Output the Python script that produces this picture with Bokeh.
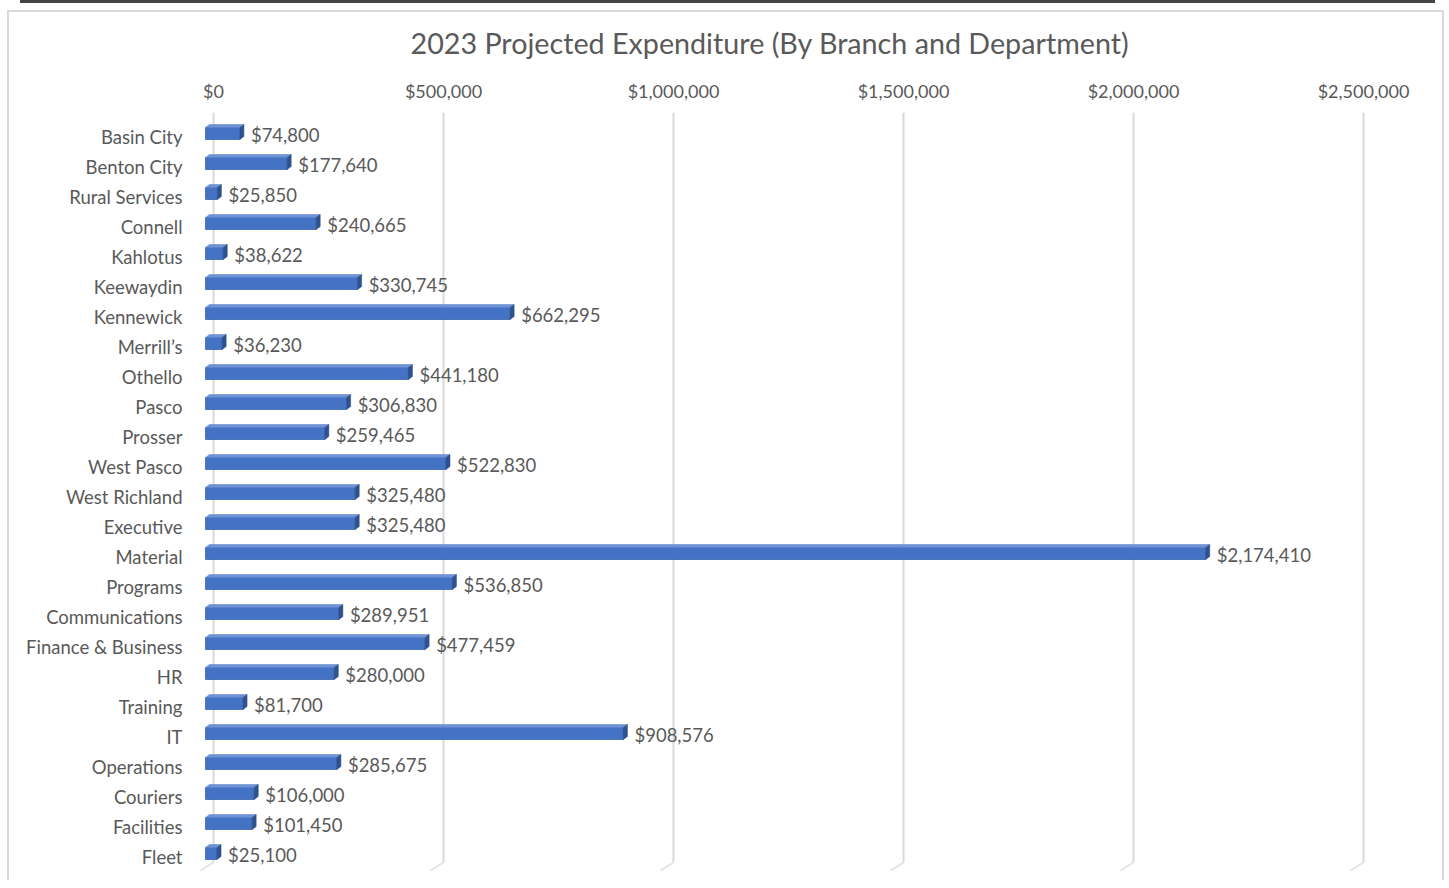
from bokeh.plotting import figure
from bokeh.models import Range1d, FixedTicker, NumeralTickFormatter, ColumnDataSource
from bokeh.embed import file_html
from bokeh.resources import INLINE

categories = ["Basin City", "Benton City", "Rural Services", "Connell", "Kahlotus",
              "Keewaydin", "Kennewick", "Merrill\u2019s", "Othello", "Pasco", "Prosser",
              "West Pasco", "West Richland", "Executive", "Material", "Programs",
              "Communications", "Finance & Business", "HR", "Training", "IT",
              "Operations", "Couriers", "Facilities", "Fleet"]
values = [74800, 177640, 25850, 240665, 38622, 330745, 662295, 36230, 441180,
          306830, 259465, 522830, 325480, 325480, 2174410, 536850, 289951,
          477459, 280000, 81700, 908576, 285675, 106000, 101450, 25100]
x_ticks = [0, 500000, 1000000, 1500000, 2000000, 2500000]
title_text = "2023 Projected Expenditure (By Branch and Department)"

W, H = 1446, 880
PX = 500000 / 230.0            # dollars per pixel
frame_left, frame_right = 195, 1425
frame_top, frame_bottom = 112, 876
zero_x = 213
x_start = -(zero_x - frame_left) * PX
x_end = (frame_right - zero_x) * PX
row_px = 30.0
row0 = 136
y_top = (frame_top - row0) / row_px
y_bot = (frame_bottom - row0) / row_px

p = figure(width=W, height=H, x_range=Range1d(x_start, x_end), y_range=Range1d(y_bot, y_top),
           x_axis_location="above", output_backend="svg", toolbar_location=None,
           min_border_left=frame_left, min_border_right=W - frame_right,
           min_border_top=frame_top, min_border_bottom=H - frame_bottom, title=title_text)

p.background_fill_color = "white"
p.border_fill_color = None
p.outline_line_color = None
p.xgrid.visible = False
p.ygrid.visible = False
p.styles = {
    "background": ("linear-gradient(#444444,#444444) 20px 0px / 1415px 3px no-repeat, "
                   "linear-gradient(#D9D9D9,#D9D9D9) 7px 10px / 2px 100% no-repeat, "
                   "linear-gradient(#D9D9D9,#D9D9D9) 1442px 10px / 2px 100% no-repeat, "
                   "linear-gradient(#D9D9D9,#D9D9D9) 7px 10px / 1437px 2px no-repeat, "
                   "white"),
}

FONT = "Lato"
GREY = "#595959"

p.title.text_font = FONT
p.title.text_font_size = "28.7px"
p.title.text_font_style = "normal"
p.title.text_color = GREY
p.title.align = "left"
p.title.offset = 215
p.title.standoff = 34

xa = p.xaxis[0]
xa.ticker = FixedTicker(ticks=x_ticks)
xa.formatter = NumeralTickFormatter(format="$0,0")
ya = p.yaxis[0]
ya.ticker = FixedTicker(ticks=list(range(len(categories))))
ya.major_label_overrides = {i: c for i, c in enumerate(categories)}
for ax in (xa, ya):
    ax.axis_line_color = None
    ax.major_tick_line_color = None
    ax.minor_tick_line_color = None
    ax.major_label_text_font = FONT
    ax.major_label_text_color = GREY
xa.major_label_text_font_size = "18px"
ya.major_label_text_font_size = "18.5px"
xa.major_label_standoff = 5
ya.major_label_standoff = 7

# back-wall gridlines with 3D floor
grid_bottom = (862 - row0) / row_px
floor_y = (870 - row0) / row_px
n_t = len(x_ticks)
p.segment(x0=x_ticks, y0=[y_top] * n_t, x1=x_ticks, y1=[grid_bottom] * n_t,
          line_color="#D9D9D9", line_width=2)
p.segment(x0=x_ticks, y0=[grid_bottom] * n_t,
          x1=[t - 13 * PX for t in x_ticks], y1=[floor_y] * n_t,
          line_color="#E3E3E3", line_width=2)

# 3D bars
bx = -8 * PX
dx = 4 * PX
dy = 3 / row_px
ft, fb = -9 / row_px, 3 / row_px
idx = list(range(len(categories)))
rights = [bx + v for v in values]
p.quad(left=[bx] * len(values), right=rights, top=[i + ft for i in idx], bottom=[i + fb for i in idx],
       fill_color="#4472C4", line_color="#3A63B0", line_width=0.8)
top_xs, top_ys, side_xs, side_ys = [], [], [], []
for i, r in zip(idx, rights):
    top_xs.append([bx, r, r + dx, bx + dx])
    top_ys.append([i + ft, i + ft, i + ft - dy, i + ft - dy])
    side_xs.append([r, r, r + dx, r + dx])
    side_ys.append([i + ft, i + fb, i + fb - dy, i + ft - dy])
p.patches(xs=top_xs, ys=top_ys, fill_color="#6D92D8", line_color="#5A80C8", line_width=0.5)
p.patches(xs=side_xs, ys=side_ys, fill_color="#2F528F", line_color="#2A4A82", line_width=0.5)

labels = ColumnDataSource(dict(x=[r + dx for r in rights], y=[i - 0.05 for i in idx],
                               t=["${:,}".format(v) for v in values]))
p.text(x="x", y="y", text="t", source=labels, x_offset=7, text_baseline="middle",
       text_align="left", text_font_size="18.5px", text_color=GREY,
       text_font={"value": FONT})

open("out.html", "w").write(file_html(p, INLINE))
